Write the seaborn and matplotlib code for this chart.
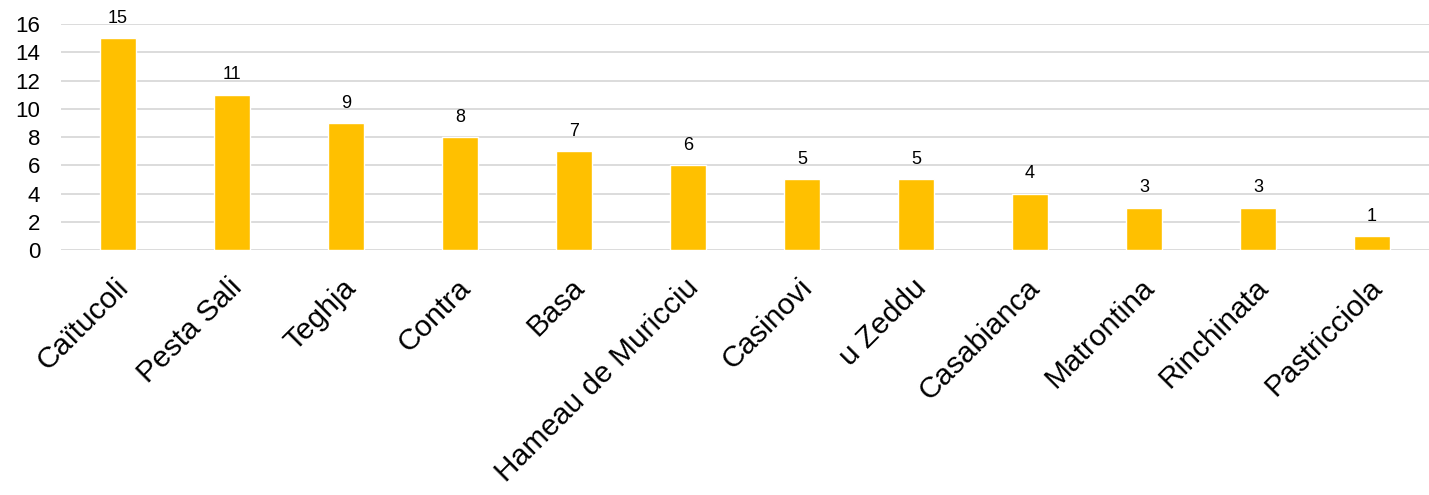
import matplotlib
matplotlib.use("Agg")
import matplotlib.pyplot as plt
import matplotlib.transforms as mtransforms
import seaborn as sns
import pandas as pd

categories = ["Caïtucoli", "Pesta Sali", "Teghja", "Contra", "Basa", "Hameau de Muricciu",
              "Casinovi", "u Zeddu", "Casabianca", "Matrontina", "Rinchinata", "Pastricciola"]
values = [15, 11, 9, 8, 7, 6, 5, 5, 4, 3, 3, 1]

sns.set_theme(style="white")
plt.rcParams['font.family'] = ['Liberation Sans', 'DejaVu Sans']
plt.rcParams['text.color'] = 'black'

df = pd.DataFrame({"cat": categories, "val": values})

fig = plt.figure(figsize=(14.29, 4.95), dpi=100)
ax = fig.add_axes([61/1429, 1-250/495, 1-61/1429, (250-24)/495])
sns.barplot(data=df, x="cat", y="val", color="#FFC000", saturation=1, width=0.31, ax=ax)
ax.set_ylim(0, 16)
ax.set_yticks(range(0, 17, 2))
ax.yaxis.grid(True, color="#D9D9D9", linewidth=1.3)
ax.set_axisbelow(True)
for s in ax.spines.values():
    s.set_visible(False)
ax.set_xlabel("")
ax.set_ylabel("")
ax.tick_params(axis='y', labelsize=16, labelcolor="#000000", length=0, pad=15)
ax.tick_params(axis='x', length=0, pad=17, labelcolor="#000000")
ax.set_xticks(range(len(categories)))
ax.set_xticklabels(categories, rotation=45, ha='right', rotation_mode='anchor', fontsize=21.5)
offset = mtransforms.ScaledTranslation(-4/100, 0, fig.dpi_scale_trans)
for lbl in ax.get_xticklabels():
    lbl.set_transform(lbl.get_transform() + offset)
for i, v in enumerate(values):
    ax.text(i, v + 0.8, str(v), ha='center', va='bottom', fontsize=13, color="#000000")
ax.set_xlim(-0.5, len(categories) - 0.5)
fig.savefig("out.png", dpi=100)
